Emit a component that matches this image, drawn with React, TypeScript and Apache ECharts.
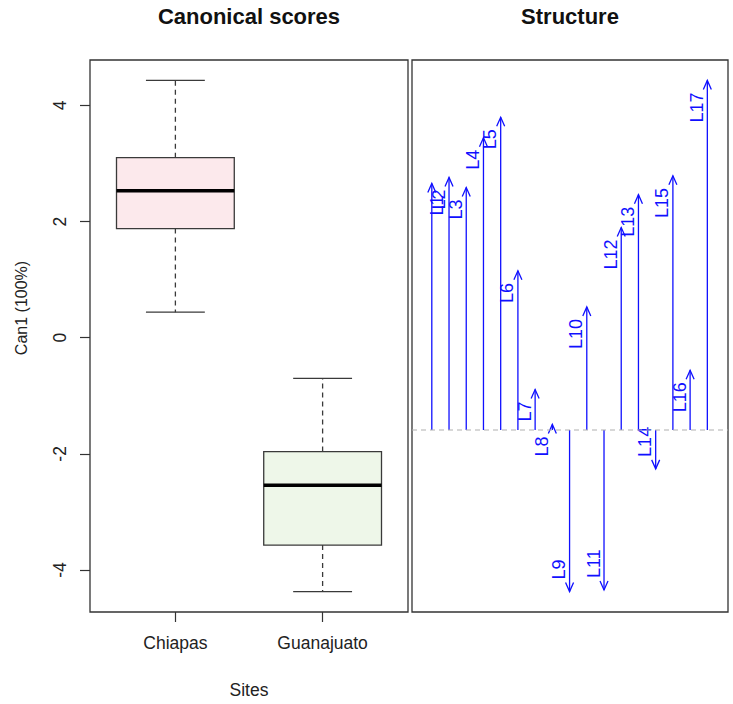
import React, { useEffect, useRef } from "react";
import * as echarts from "echarts";

// ---- data ----
const sites = ["Chiapas", "Guanajuato"];
const boxLow = [0.44, -4.37];
const boxQ1 = [1.88, -3.57];
const boxMedian = [2.53, -2.54];
const boxQ3 = [3.1, -1.96];
const boxHigh = [4.43, -0.7];
const scoreTicks = [-4, -2, 0, 2, 4];

const variables = [
  "L1", "L2", "L3", "L4", "L5", "L6", "L7", "L8", "L9",
  "L10", "L11", "L12", "L13", "L14", "L15", "L16", "L17",
];
const structure = [
  0.615, 0.63, 0.605, 0.729, 0.78, 0.397, 0.101, 0.014, -0.403,
  0.307, -0.399, 0.505, 0.587, -0.097, 0.634, 0.149, 0.872,
];

const FONT = "'Liberation Sans', Arial, sans-serif";
const BLUE = "#1010ff";

export default function App() {
  const ref = useRef<HTMLDivElement>(null);

  useEffect(() => {
    if (!ref.current) return;
    const chart = echarts.init(ref.current, undefined, { renderer: "svg" });

    const boxData = sites.map((s, i) => [
      i + 1,
      boxLow[i],
      boxQ1[i],
      boxMedian[i],
      boxQ3[i],
      boxHigh[i],
    ]);
    const boxFills = ["#fce9ec", "#eef7e9"];

    const arrowData = variables.map((v, i) => [i + 1, structure[i]]);

    const option: any = {
      animation: false,
      backgroundColor: "#ffffff",
      textStyle: { fontFamily: FONT },
      grid: [
        {
          left: 90, top: 60, width: 318, height: 552,
          show: true, borderColor: "#333", borderWidth: 1.3,
          backgroundColor: "transparent",
        },
        {
          left: 412, top: 60, width: 316, height: 552,
          show: true, borderColor: "#333", borderWidth: 1.3,
          backgroundColor: "transparent",
        },
      ],
      xAxis: [
        {
          type: "value", gridIndex: 0, min: 0.42, max: 2.58,
          position: "bottom",
          axisLine: { show: false, onZero: false },
          splitLine: { show: false },
          axisTick: {
            show: true, length: 10, customValues: [1, 2],
            lineStyle: { color: "#333", width: 1.2 },
          },
          axisLabel: {
            show: true, customValues: [1, 2], margin: 22,
            fontSize: 17.5, color: "#222", fontFamily: FONT,
            formatter: (v: number) => sites[Math.round(v) - 1] ?? "",
          },
        },
        {
          type: "value", gridIndex: 1, min: -0.15, max: 18.2,
          axisLine: { show: false, onZero: false }, axisTick: { show: false },
          axisLabel: { show: false }, splitLine: { show: false },
        },
      ],
      yAxis: [
        {
          type: "value", gridIndex: 0, min: -4.722, max: 4.782,
          position: "left",
          axisLine: { show: false, onZero: false },
          splitLine: { show: false },
          axisTick: {
            show: true, length: 10, customValues: scoreTicks,
            lineStyle: { color: "#333", width: 1.2 },
          },
          axisLabel: {
            show: true, customValues: scoreTicks, rotate: 90, margin: 21,
            fontSize: 17.5, color: "#222", fontFamily: FONT,
          },
        },
        {
          type: "value", gridIndex: 1, min: -0.454, max: 0.923,
          axisLine: { show: false, onZero: false }, axisTick: { show: false },
          axisLabel: { show: false }, splitLine: { show: false },
        },
      ],
      graphic: [
        {
          type: "text", x: 249, y: 16,
          style: {
            text: "Canonical scores", font: `bold 22px ${FONT}`,
            fill: "#111", align: "center", verticalAlign: "middle",
            textAlign: "center", textVerticalAlign: "middle",
          },
        },
        {
          type: "text", x: 570, y: 16,
          style: {
            text: "Structure", font: `bold 22px ${FONT}`,
            fill: "#111", align: "center", verticalAlign: "middle",
            textAlign: "center", textVerticalAlign: "middle",
          },
        },
        {
          type: "text", x: 249, y: 690,
          style: {
            text: "Sites", font: `17.5px ${FONT}`,
            fill: "#222", align: "center", verticalAlign: "middle",
            textAlign: "center", textVerticalAlign: "middle",
          },
        },
        {
          type: "text", x: 21, y: 308, rotation: Math.PI / 2,
          style: {
            text: "Can1 (100%)", font: `16px ${FONT}`,
            fill: "#222", align: "center", verticalAlign: "middle",
            textAlign: "center", textVerticalAlign: "middle",
          },
        },
      ],
      series: [
        {
          type: "custom",
          xAxisIndex: 0, yAxisIndex: 0,
          data: boxData,
          renderItem: (params: any, api: any) => {
            const x = api.value(0);
            const lo = api.coord([x, api.value(1)]);
            const q1 = api.coord([x, api.value(2)]);
            const md = api.coord([x, api.value(3)]);
            const q3 = api.coord([x, api.value(4)]);
            const hi = api.coord([x, api.value(5)]);
            const l = api.coord([x - 0.4, 0])[0];
            const r = api.coord([x + 0.4, 0])[0];
            const cl = api.coord([x - 0.2, 0])[0];
            const cr = api.coord([x + 0.2, 0])[0];
            const cx = lo[0];
            const stroke = "#3a3a3a";
            return {
              type: "group",
              children: [
                {
                  type: "line",
                  shape: { x1: cx, y1: q3[1], x2: cx, y2: hi[1] },
                  style: { stroke, lineWidth: 1.3, lineDash: [5, 4] },
                },
                {
                  type: "line",
                  shape: { x1: cx, y1: q1[1], x2: cx, y2: lo[1] },
                  style: { stroke, lineWidth: 1.3, lineDash: [5, 4] },
                },
                {
                  type: "line",
                  shape: { x1: cl, y1: hi[1], x2: cr, y2: hi[1] },
                  style: { stroke, lineWidth: 1.3 },
                },
                {
                  type: "line",
                  shape: { x1: cl, y1: lo[1], x2: cr, y2: lo[1] },
                  style: { stroke, lineWidth: 1.3 },
                },
                {
                  type: "rect",
                  shape: { x: l, y: q3[1], width: r - l, height: q1[1] - q3[1] },
                  style: { fill: boxFills[params.dataIndex], stroke, lineWidth: 1.3 },
                },
                {
                  type: "line",
                  shape: { x1: l, y1: md[1], x2: r, y2: md[1] },
                  style: { stroke: "#000", lineWidth: 3.5 },
                },
              ],
            };
          },
        },
        {
          type: "line",
          xAxisIndex: 1, yAxisIndex: 1,
          data: [[-0.15, 0], [18.2, 0]],
          symbol: "none",
          lineStyle: { color: "#b0b0b0", width: 1.2, type: [5, 4] },
          silent: true,
        },
        {
          type: "custom",
          xAxisIndex: 1, yAxisIndex: 1,
          data: arrowData,
          renderItem: (params: any, api: any) => {
            const x = api.value(0);
            const v = api.value(1);
            const name = variables[params.dataIndex];
            const base = api.coord([x, 0]);
            const tip = api.coord([x, v]);
            const s = v >= 0 ? 1 : -1;
            const hl = 9, hw = 4;
            // the first label sits just right of its arrow (as in the original plot)
            const dx = params.dataIndex === 0 ? 5.5 : -10.5;
            return {
              type: "group",
              children: [
                {
                  type: "line",
                  shape: { x1: base[0], y1: base[1], x2: tip[0], y2: tip[1] },
                  style: { stroke: BLUE, lineWidth: 1.3 },
                },
                {
                  type: "polyline",
                  shape: {
                    points: [
                      [tip[0] - hw, tip[1] + s * hl],
                      [tip[0], tip[1]],
                      [tip[0] + hw, tip[1] + s * hl],
                    ],
                  },
                  style: { stroke: BLUE, lineWidth: 1.3, fill: "none" },
                },
                {
                  type: "text",
                  x: tip[0] + dx,
                  y: tip[1] + s * 12,
                  rotation: Math.PI / 2,
                  style: {
                    text: name,
                    font: `18px ${FONT}`,
                    fill: BLUE,
                    align: s > 0 ? "right" : "left",
                    textAlign: s > 0 ? "right" : "left",
                    verticalAlign: "middle",
                    textVerticalAlign: "middle",
                  },
                },
              ],
            };
          },
        },
      ],
    };

    chart.setOption(option);
    return () => chart.dispose();
  }, []);

  return (
    <div
      ref={ref}
      style={{ position: "fixed", left: 0, top: 0, width: 733, height: 704 }}
    />
  );
}
